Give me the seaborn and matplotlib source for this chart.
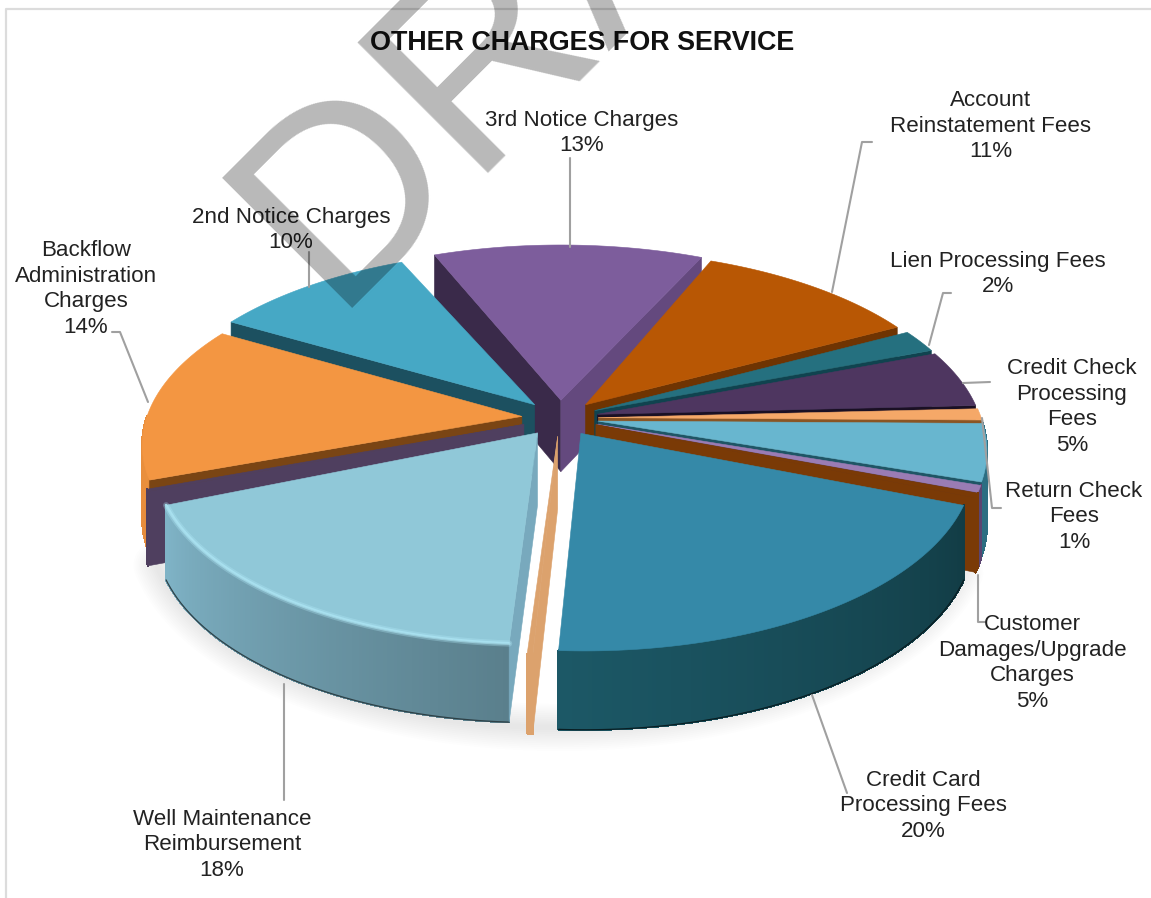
import numpy as np
import matplotlib
matplotlib.use("Agg")
import matplotlib.pyplot as plt
from matplotlib.collections import PolyCollection
from matplotlib.colors import to_rgb
import seaborn as sns

# Slices clockwise from the 3rd Notice wedge; empty names are unlabelled slivers.
slice_names = ["3rd Notice Charges", "Account\nReinstatement Fees", "Lien Processing Fees",
               "Credit Check\nProcessing\nFees", "Return Check\nFees",
               "Customer\nDamages/Upgrade\nCharges", "", "", "Credit Card\nProcessing Fees", "",
               "Well Maintenance\nReimbursement", "", "Backflow\nAdministration\nCharges",
               "2nd Notice Charges"]
slice_shares = [13, 11, 2, 5, 1, 5, 0.6, 0.4, 20, 0.2, 18, 0.2, 14, 10]

top_hex = ["#7d5d9c", "#b85704", "#25707f", "#4e3660", "#f5a868", "#68b6cf", "#9a7cb4",
           "#7a3a06", "#3589a8", "#dca26d", "#90c8d8", "#4f3f5f", "#f39642", "#46a8c5"]
# Side wall shades: leading radial face, trailing radial face, rim at both ends.
lead_hex = ["#3a2a4a", "#6f3402", "#10434f", "#2a1c36", "#a0642c", "#1f5565", "#5b4571",
            "#7a3a06", "#1c5866", "#dca26d", "#78a9bd", "#4f3f5f", "#7a4514", "#1c5060"]
trail_hex = ["#64497e", "#6f3402", "#10434f", "#1a1024", "#8a5524", "#1f5565", "#4a3860",
             "#7a3a06", "#1c5866", "#dca26d", "#78a9bd", "#4f3f5f", "#7a4514", "#1c5060"]
rim_a_hex = ["#64497e", "#6f3402", "#10434f", "#2a1c36", "#8a5524", "#2c6e82", "#5b4571",
             "#7a3a06", "#123c45", "#dca26d", "#5a7f8c", "#4f3f5f", "#e58c3c", "#1c5060"]
rim_b_hex = ["#64497e", "#6f3402", "#10434f", "#2a1c36", "#8a5524", "#2c6e82", "#5b4571",
             "#7a3a06", "#1c5866", "#dca26d", "#7fb3c6", "#4f3f5f", "#f0953f", "#1c5060"]
paint_order = [0, 9, 1, 2, 3, 4, 5, 6, 7, 8, 13, 12, 11, 10]

# Small per-slice corrections to the drawn wedge (rotation in degrees, radius factor).
rotation_nudge = {0: 2.0, 8: -0.7, 9: -0.9, 10: -1.5}
radius_factor = {0: 1.015, 10: 0.975, 11: 0.985, 12: 0.98}
outlined_rims = {8, 10}

# Leader polylines, one per labelled slice, in figure pixels.
leaders = {
    0: [(570, 158), (570, 247)],
    1: [(872, 142), (862, 142), (832, 292)],
    2: [(951, 293), (943, 293), (929, 345)],
    3: [(963, 383), (990, 382)],
    4: [(982, 418), (992, 508), (1001, 508)],
    5: [(978, 575), (978, 622), (985, 622)],
    8: [(812, 695), (847, 793)],
    10: [(284, 684), (284, 800)],
    12: [(112, 332), (120, 332), (148, 402)],
    13: [(309, 252), (309, 287)],
}
label_centres = {0: (582, 133), 1: (991, 126), 2: (998, 274), 3: (1072, 407), 4: (1074, 517),
                 5: (1032, 663), 8: (923, 806), 10: (222, 845), 12: (86, 289), 13: (291, 230)}

CX, CY, RX, RY, PERSP = 560.0, 418.0, 383.0, 180.6, 0.147
EXPLODE, DEPTH, START = 0.10, 72.0, -24.0


def project(x, y, drop=0.0):
    """Flatten disc coordinates to the tilted view; drop pushes points down the wall."""
    w = 1 + PERSP * y
    return CX + RX * x / w, CY - RY * y / w + drop * DEPTH / (1 + 0.08 * y)


def blend(col_a, col_b, n):
    a, b = np.array(to_rgb(col_a)), np.array(to_rgb(col_b))
    return [tuple(a + (b - a) * t) for t in np.linspace(0, 1, n)]


sns.set_theme(style="white")
plt.rcParams["font.family"] = ["Liberation Sans", "DejaVu Sans"]
palette = sns.color_palette(top_hex)

fig = plt.figure(figsize=(11.51, 8.98), dpi=100, facecolor="white")
ax = fig.add_axes([0, 0, 1, 1])
ax.set_xlim(0, 1151)
ax.set_ylim(898, 0)
ax.axis("off")

# Panel border along the top and left.
ax.plot([6, 6, 1151], [898, 9, 9], color="#dcdcdc", lw=1.6, zorder=1)

shares = np.array(slice_shares, dtype=float)
bounds = START + np.concatenate([[0], np.cumsum(shares)]) * 360.0 / shares.sum()

z = 10
# Faint shadow under the front of the pie.
th = np.radians(np.linspace(112, 250, 200))
sx, sy = project(1.06 * np.sin(th), 1.06 * np.cos(th), 1.0)
for width in np.linspace(4, 34, 12):
    ax.plot(sx, sy + 4, color="black", lw=width, alpha=0.006, zorder=z, solid_capstyle="round")

for i in paint_order:
    a0 = np.radians(bounds[i] + rotation_nudge.get(i, 0.0))
    a1 = np.radians(bounds[i + 1] + rotation_nudge.get(i, 0.0))
    mid = (a0 + a1) / 2
    ox, oy = EXPLODE * np.sin(mid), EXPLODE * np.cos(mid)
    r = radius_factor.get(i, 1.0)
    th = np.linspace(a0, a1, max(4, int(np.degrees(a1 - a0) * 2)))
    arc_x, arc_y = ox + r * np.sin(th), oy + r * np.cos(th)

    z += 1
    tx, ty = project(arc_x, arc_y, 0.0)
    bx, by = project(arc_x, arc_y, 1.0)
    tipx, tipy = project(ox, oy, 0.0)
    tipbx, tipby = project(ox, oy, 1.0)

    # Only faces turned towards the viewer are drawn: rim, radial faces, then the top.
    shades = blend(rim_a_hex[i], rim_b_hex[i], len(tx) - 1)
    front = [k for k in range(len(tx) - 1) if np.cos((th[k] + th[k + 1]) / 2) < 0]
    if front:
        quads = [[(tx[k], ty[k]), (tx[k + 1], ty[k + 1]), (bx[k + 1], by[k + 1]), (bx[k], by[k])]
                 for k in front]
        ax.add_collection(PolyCollection(quads, facecolors=[shades[k] for k in front],
                                         edgecolors="face", linewidths=1.0, antialiaseds=False,
                                         zorder=z))
        if i in outlined_rims:
            ax.plot(bx[front[0]:front[-1] + 2], by[front[0]:front[-1] + 2],
                    color=blend(rim_a_hex[i], "#000000", 3)[1], lw=0.9, zorder=z)
    if np.sin(a0) < 0:
        ax.add_patch(plt.Polygon([(tipx, tipy), (tx[0], ty[0]), (bx[0], by[0]), (tipbx, tipby)],
                                 closed=True, fc=lead_hex[i], ec=lead_hex[i], lw=0.4, zorder=z))
    if np.sin(a1) > 0:
        ax.add_patch(plt.Polygon([(tipx, tipy), (tx[-1], ty[-1]), (bx[-1], by[-1]), (tipbx, tipby)],
                                 closed=True, fc=trail_hex[i], ec=trail_hex[i], lw=0.4, zorder=z))
    ax.add_patch(plt.Polygon(np.r_[[[tipx, tipy]], np.c_[tx, ty]], closed=True,
                             fc=palette[i], ec=palette[i], lw=0.4, zorder=z))
    # Bevel highlight on the large pale slice.
    if i == 10:
        ax.plot(tx, ty, color="#b4ecfa", lw=4.5, alpha=0.3, zorder=z, solid_capstyle="round")
        ax.plot(tx, ty, color="#b4ecfa", lw=2.2, alpha=0.55, zorder=z, solid_capstyle="round")

# Leaders and labels.
for i, pts in leaders.items():
    xs, ys = zip(*pts)
    ax.plot(xs, ys, color="#a0a0a0", lw=1.5, zorder=60)
for i, (lx, ly) in label_centres.items():
    share = slice_shares[i]
    ax.text(lx, ly, f"{slice_names[i]}\n{share}%", ha="center", va="center", fontsize=16.1,
            color="#222222", linespacing=1.28, zorder=61)

ax.text(582, 43, "OTHER CHARGES FOR SERVICE", ha="center", va="center", fontsize=19.4,
        fontweight="bold", color="#111111", zorder=61)

# Diagonal watermark across the whole sheet.
ax.text(331, 309, "DRAFT", rotation=45, rotation_mode="anchor", ha="left", va="baseline",
        fontsize=192, color="black", alpha=0.28, zorder=70, clip_on=False)

fig.savefig("out.png", dpi=100)
